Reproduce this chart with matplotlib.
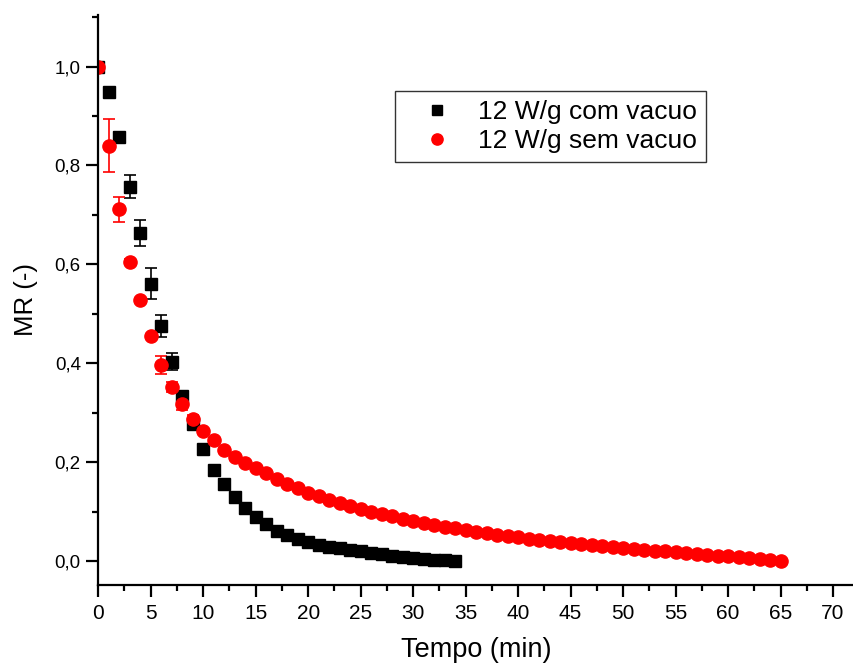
import matplotlib
matplotlib.use("Agg")
import matplotlib.pyplot as plt
from matplotlib.ticker import MultipleLocator, FuncFormatter

plt.rcParams['font.family'] = ['Liberation Sans', 'DejaVu Sans']

# 12 W/g com vacuo (0 .. 34 min)
t_com = list(range(0, 35))
mr_com = [1.0, 0.949, 0.858, 0.757, 0.664, 0.561, 0.476, 0.403, 0.334, 0.277,
          0.227, 0.183, 0.155, 0.130, 0.107, 0.088, 0.075, 0.061, 0.052, 0.044,
          0.038, 0.033, 0.029, 0.026, 0.023, 0.020, 0.017, 0.014, 0.011, 0.008,
          0.006, 0.004, 0.002, 0.001, 0.0]
err_com = [0, 0, 0.010, 0.023, 0.026, 0.032, 0.022, 0.017, 0.010, 0.008] + [0] * 25

# 12 W/g sem vacuo (0 .. 65 min)
t_sem = list(range(0, 66))
mr_sem = [1.0, 0.840, 0.711, 0.605, 0.528, 0.455, 0.397, 0.352, 0.318, 0.287,
          0.262, 0.245, 0.225, 0.211, 0.198, 0.188, 0.178, 0.166, 0.156, 0.147,
          0.138, 0.131, 0.124, 0.117, 0.111, 0.105, 0.100, 0.095, 0.090, 0.085,
          0.081, 0.077, 0.073, 0.069, 0.066, 0.063, 0.059, 0.056, 0.053, 0.050,
          0.048, 0.045, 0.043, 0.041, 0.038, 0.036, 0.034, 0.032, 0.030, 0.028,
          0.026, 0.025, 0.023, 0.021, 0.020, 0.018, 0.016, 0.015, 0.013, 0.011,
          0.010, 0.008, 0.006, 0.004, 0.002, 0.0]
err_sem = [0, 0.053, 0.025, 0.005, 0, 0, 0.018, 0.010, 0.012, 0.008] + [0] * 56

labels = ['12 W/g com vacuo', '12 W/g sem vacuo']

fig = plt.figure(figsize=(8.54, 6.68), dpi=100)
ax = fig.add_axes([0.115, 0.124, 0.885, 0.854])

c1 = ax.errorbar(t_com, mr_com, yerr=err_com, fmt='s', color='black', ms=8.5,
                 ecolor='black', elinewidth=1.2, capsize=4.5, capthick=1.2)
c2 = ax.errorbar(t_sem, mr_sem, yerr=err_sem, fmt='o', color='#ff0000', ms=9.5,
                 ecolor='#ff0000', elinewidth=1.2, capsize=4.5, capthick=1.2)

ax.set_xlim(0, 72)
ax.set_ylim(-0.049, 1.105)
ax.spines['top'].set_visible(False)
ax.spines['right'].set_visible(False)
ax.spines['left'].set_linewidth(1.6)
ax.spines['bottom'].set_linewidth(1.6)

ax.xaxis.set_major_locator(MultipleLocator(5))
ax.xaxis.set_minor_locator(MultipleLocator(2.5))
ax.yaxis.set_major_locator(MultipleLocator(0.2))
ax.yaxis.set_minor_locator(MultipleLocator(0.1))
ax.yaxis.set_major_formatter(FuncFormatter(lambda v, p: ('%.1f' % v).replace('.', ',')))
ax.tick_params(which='major', direction='out', length=8.5, width=1.6)
ax.tick_params(which='minor', direction='out', length=4.5, width=1.6)
ax.tick_params(axis='x', labelsize=15, pad=5)
ax.tick_params(axis='y', labelsize=13.5, pad=4)

ax.set_xlabel('Tempo (min)', fontsize=19.5, labelpad=10)
ax.set_ylabel('MR (-)', fontsize=18.5, labelpad=12)

# legend shows markers only, no error bars
leg = ax.legend([c1[0], c2[0]], labels, loc='upper left',
                bbox_to_anchor=(0.393, 0.867), borderaxespad=0,
                fontsize=19, frameon=True, fancybox=False, handletextpad=0.3,
                handlelength=2.5, borderpad=0.35, labelspacing=0.2, markerscale=0.85)
leg.get_frame().set_edgecolor('black')
leg.get_frame().set_linewidth(1.0)

fig.savefig('out.png', dpi=100)
